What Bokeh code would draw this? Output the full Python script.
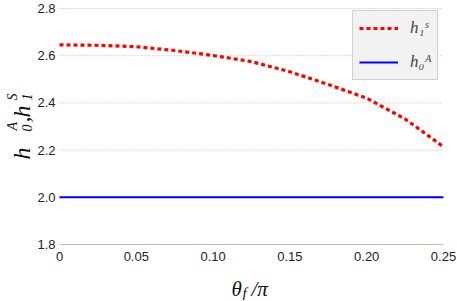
import math
from bokeh.plotting import figure
from bokeh.models import Label, Legend, LegendItem, FixedTicker, Range1d
from bokeh.embed import file_html
from bokeh.resources import INLINE

# data
theta = [0.0, 0.025, 0.05, 0.075, 0.10, 0.125, 0.15, 0.175, 0.20, 0.225, 0.25]
h1S = [2.646, 2.644, 2.638, 2.622, 2.601, 2.575, 2.532, 2.478, 2.420, 2.332, 2.214]
h0A = [2.0] * len(theta)

x_ticks = [0, 0.05, 0.10, 0.15, 0.20, 0.25]
x_tick_labels = ["0", "0.05", "0.10", "0.15", "0.20", "0.25"]
y_ticks = [1.8, 2.0, 2.2, 2.4, 2.6, 2.8]
y_tick_labels = ["1.8", "2.0", "2.2", "2.4", "2.6", "2.8"]

W, H = 456, 300
# frame covers the canvas; data area: x 0..0.25 -> px 59..443, y 1.8..2.8 -> px 244..8
sx = (443 - 59) / 0.25
sy = (244 - 8) / 1.0
p = figure(width=W, height=H, output_backend="svg", toolbar_location=None,
           x_range=Range1d(0 - 59 / sx, 0.25 + (W - 443) / sx),
           y_range=Range1d(1.8 - (H - 244) / sy, 2.8 + 8 / sy),
           min_border=0)
p.outline_line_color = None
p.background_fill_color = "white"

# dotted horizontal grid limited to the data area
p.xgrid.grid_line_color = None
p.ygrid.grid_line_color = None
grid_ys = [t for t in y_ticks if t != y_ticks[0]]
p.multi_line([[x_ticks[0], x_ticks[-1]] for _ in grid_ys], [[t, t] for t in grid_ys],
             line_color="#b8b8b8", line_width=1, line_dash="1 2")

r1 = p.line(theta, h1S, line_color="#ff0000", line_width=3.2, line_dash="4 3")
r2 = p.line(theta, h0A, line_color="#0000ff", line_width=2)

# axes, fixed inside the frame
p.xaxis.fixed_location = y_ticks[0]
p.yaxis.fixed_location = x_ticks[0]
p.xaxis.bounds = (x_ticks[0], x_ticks[-1])
p.yaxis.bounds = (y_ticks[0], y_ticks[-1])
p.xaxis.ticker = FixedTicker(ticks=x_ticks)
p.xaxis.major_label_overrides = {t: l for t, l in zip(x_ticks, x_tick_labels)}
p.yaxis.ticker = FixedTicker(ticks=y_ticks)
p.yaxis.major_label_overrides = {t: l for t, l in zip(y_ticks, y_tick_labels)}
for ax in (p.xaxis[0], p.yaxis[0]):
    ax.major_tick_line_color = None
    ax.minor_tick_line_color = None
    ax.major_tick_out = 0
    ax.major_tick_in = 0
    ax.minor_tick_out = 0
    ax.minor_tick_in = 0
    ax.major_label_text_font = "Liberation Sans"
    ax.major_label_text_font_size = "13px"
    ax.major_label_text_color = "#222222"
p.xaxis.axis_line_color = "#bbbbbb"
p.xaxis.major_label_standoff = 7
p.yaxis.axis_line_color = None
p.yaxis.major_label_standoff = 4

# legend
legend = Legend(items=[LegendItem(label="h₁ˢ", renderers=[r1]),
                       LegendItem(label="h₀ᴬ", renderers=[r2])],
                location=(352, H - 80))
legend.background_fill_color = "#f2f2f2"
legend.background_fill_alpha = 1
legend.border_line_color = "#b0b0b0"
legend.label_text_font = "Liberation Serif"
legend.label_text_font_style = "italic"
legend.label_text_font_size = "17px"
legend.glyph_width = 39
legend.glyph_height = 22
legend.label_height = 22
legend.label_standoff = 12
legend.spacing = 12
legend.padding = 6
legend.margin = 0
p.add_layout(legend, "center")


def lab(text, x, y, size, angle=0.0):
    p.add_layout(Label(x=x, y=H - y, x_units="screen", y_units="screen", text=text,
                       angle=angle, text_font="Liberation Serif", text_font_style="italic",
                       text_font_size=size, text_color="#111111",
                       text_align="left", text_baseline="alphabetic"))


# x-axis label: theta_f / pi  (positions in canvas px from top-left)
lab("θ", 231, 288, "21px")
lab("f", 242, 292, "15px")
lab("/π", 251, 288, "21px")

# y-axis label: h_0^A , h_1^S (rotated)
a = math.pi / 2
lab("h", 21, 159, "24px", a)
lab("A", 12, 130, "14px", a)
lab("0", 26, 131, "14px", a)
lab(",", 21, 122, "24px", a)
lab("h", 21, 117, "24px", a)
lab("S", 12, 100, "14px", a)
lab("1", 26, 100, "14px", a)

open("out.html", "w").write(file_html(p, INLINE))
